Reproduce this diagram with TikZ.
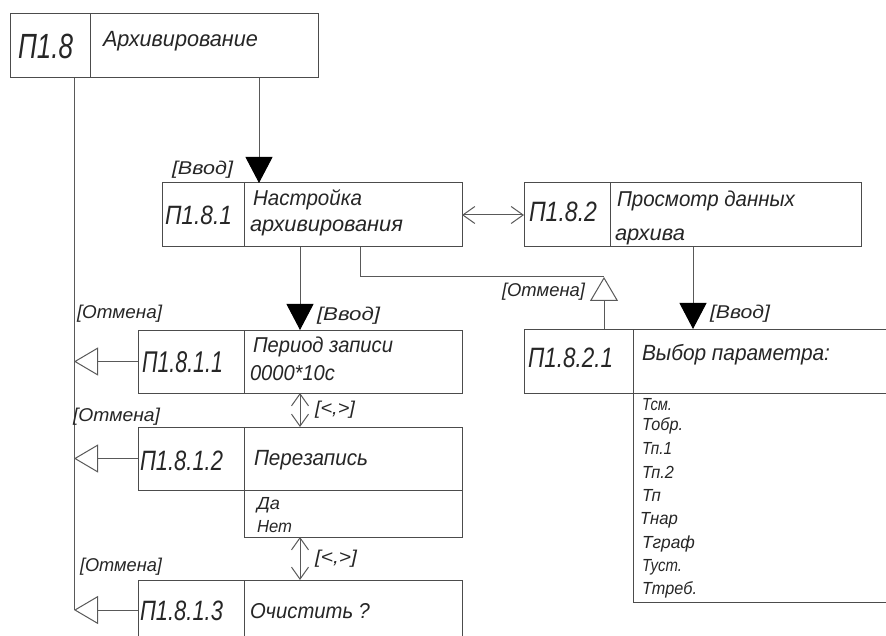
\documentclass[tikz,border=0pt]{standalone}
\usepackage{fontspec}
\setmainfont{Liberation Sans}
\usetikzlibrary{arrows.meta}
\newcommand\tx[3]{\resizebox{#2pt}{\height}{\fontsize{#1pt}{#1pt}\selectfont\itshape #3}}
\begin{document}
\begin{tikzpicture}[x=1pt,y=-1pt, line width=1pt,
  cell/.style={draw=black!70, rectangle, inner sep=0pt, outer sep=0pt, anchor=north west},
  txt/.style={anchor=base west, inner sep=0pt, outer sep=0pt, text=black!85},
  conn/.style={draw=black!65},
  bigarrow/.style={conn, -{Triangle[length=26pt,width=27pt,color=black]}},
  openarrow/.style={conn, -{Triangle[open,length=24pt,width=28pt,fill=white]}},
  dbl/.style={conn, {Straight Barb[length=12pt,width=17pt]}-{Straight Barb[length=12pt,width=17pt]}}]
\clip (0,0) rectangle (886,636);
\fill[white] (0,0) rectangle (886,636);
% boxes
\node[cell, minimum width=80pt, minimum height=64pt] (Aid) at (10,14) {};
\node[cell, minimum width=228pt, minimum height=64pt] (Atx) at (90,14) {};
\node[cell, minimum width=82pt, minimum height=64pt] (Bid) at (162,183) {};
\node[cell, minimum width=218pt, minimum height=64pt] (Btx) at (244,183) {};
\node[cell, minimum width=86pt, minimum height=64pt] (Cid) at (524,183) {};
\node[cell, minimum width=251pt, minimum height=64pt] (Ctx) at (610,183) {};
\node[cell, minimum width=109pt, minimum height=64pt] (Did) at (524,329) {};
\node[cell, minimum width=300pt, minimum height=64pt] (Dtx) at (633,329) {};
\node[cell, minimum width=300pt, minimum height=209pt] (Dlist) at (633,393) {};
\node[cell, minimum width=106pt, minimum height=63pt] (Eid) at (138,330) {};
\node[cell, minimum width=218pt, minimum height=63pt] (Etx) at (244,330) {};
\node[cell, minimum width=106pt, minimum height=63pt] (Fid) at (138,427) {};
\node[cell, minimum width=218pt, minimum height=63pt] (Ftx) at (244,427) {};
\node[cell, minimum width=218pt, minimum height=47pt] (Fsub) at (244,490) {};
\node[cell, minimum width=106pt, minimum height=60pt] (Gid) at (138,580) {};
\node[cell, minimum width=218pt, minimum height=60pt] (Gtx) at (244,580) {};
% attachment points
\coordinate (aB) at (259,183);
\coordinate (bus) at (74,610);
\coordinate (aE) at (300,330);
\coordinate (kB) at (360,247);
\coordinate (kJ) at (604,277);
\coordinate (kD) at (604,329);
\coordinate (aD) at (693,329);
% connectors
\draw[bigarrow] (aB |- Atx.south) -- (aB);
\draw[conn] (bus |- Aid.south) -- (bus);
\draw[dbl] (Btx.east) -- (Cid.west);
\draw[bigarrow] (aE |- Btx.south) -- (aE);
\draw[conn] (kB) |- (kJ);
\draw[openarrow] (kD) -- (kJ);
\draw[bigarrow] (aD |- Ctx.south) -- (aD);
\draw[openarrow] (Eid.west) -- (Eid.west -| bus);
\draw[openarrow] (Fid.west) -- (Fid.west -| bus);
\draw[openarrow] (Gid.west) -- (Gid.west -| bus);
\draw[dbl] (Etx.south -| aE) -- (Ftx.north -| aE);
\draw[dbl] (Fsub.south -| aE) -- (Gtx.north -| aE);
% texts
\node[txt] (tAid) at (18,58.5) {\tx{35}{55}{П1.8}};
\node[txt] (tAtx) at (103,47) {\tx{22}{155}{Архивирование}};
\node[txt] (tBin) at (172,175) {\tx{18.5}{61}{[Ввод]}};
\node[txt] (tBid) at (165,225) {\tx{26.5}{67}{П1.8.1}};
\node[txt] (tBtx1) at (253,206) {\tx{21.5}{109}{Настройка}};
\node[txt] (tBtx2) at (250,232) {\tx{21.5}{153}{архивирования}};
\node[txt] (tCid) at (529,222) {\tx{28}{68}{П1.8.2}};
\node[txt] (tCtx1) at (617,207) {\tx{21.5}{178}{Просмотр данных}};
\node[txt] (tCtx2) at (615,241) {\tx{21.5}{70}{архива}};
\node[txt] (tDout) at (502,297) {\tx{18.5}{83}{[Отмена]}};
\node[txt] (tDin) at (710,319) {\tx{18.5}{60}{[Ввод]}};
\node[txt] (tDid) at (528,367) {\tx{28}{85}{П1.8.2.1}};
\node[txt] (tDtx) at (642,360) {\tx{22}{188}{Выбор параметра:}};
\node[txt] (tL1) at (642,410) {\tx{17.5}{30}{Тсм.}};
\node[txt] (tL2) at (642,430) {\tx{17.5}{41}{Тобр.}};
\node[txt] (tL3) at (642,454) {\tx{17.5}{30}{Тп.1}};
\node[txt] (tL4) at (642,478) {\tx{17.5}{32}{Тп.2}};
\node[txt] (tL5) at (642,501) {\tx{17.5}{19}{Тп}};
\node[txt] (tL6) at (640,524) {\tx{17.5}{38}{Тнар}};
\node[txt] (tL7) at (642,548) {\tx{17.5}{53}{Тграф}};
\node[txt] (tL8) at (642,571) {\tx{17.5}{40}{Туст.}};
\node[txt] (tL9) at (642,594) {\tx{17.5}{55}{Ттреб.}};
\node[txt] (tEout) at (77,319) {\tx{18.5}{85}{[Отмена]}};
\node[txt] (tEin) at (317,320) {\tx{18.5}{63}{[Ввод]}};
\node[txt] (tEid) at (142,372) {\tx{30}{81}{П1.8.1.1}};
\node[txt] (tEtx1) at (253,352) {\tx{21.5}{140}{Период записи}};
\node[txt] (tEtx2) at (250,380) {\tx{21.5}{85}{0000*10с}};
\node[txt] (tEF) at (315,414) {\tx{18.5}{40}{[<,>]}};
\node[txt] (tFout) at (73,421) {\tx{18.5}{87}{[Отмена]}};
\node[txt] (tFid) at (140,470) {\tx{28}{83}{П1.8.1.2}};
\node[txt] (tFtx) at (254,465) {\tx{22}{114}{Перезапись}};
\node[txt] (tFs1) at (257,509) {\tx{17.5}{23}{Да}};
\node[txt] (tFs2) at (257,532) {\tx{17.5}{35}{Нет}};
\node[txt] (tFG) at (315,563) {\tx{18.5}{42}{[<,>]}};
\node[txt] (tGout) at (80,571) {\tx{18.5}{82}{[Отмена]}};
\node[txt] (tGid) at (140,620) {\tx{28}{83}{П1.8.1.3}};
\node[txt] (tGtx) at (250,618) {\tx{21.5}{120}{Очистить ?}};
\end{tikzpicture}
\end{document}
